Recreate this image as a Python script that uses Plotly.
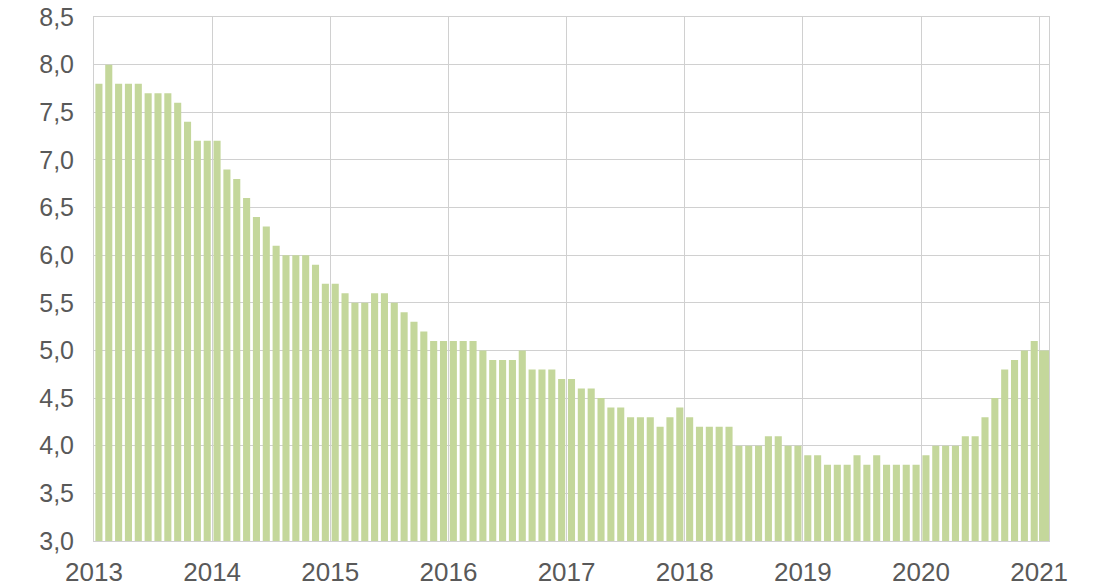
import plotly.graph_objects as go

years = ["2013", "2014", "2015", "2016", "2017", "2018", "2019", "2020", "2021"]

values_2013 = [7.8, 8.0, 7.8, 7.8, 7.8, 7.7, 7.7, 7.7, 7.6, 7.4, 7.2, 7.2]
values_2014 = [7.2, 6.9, 6.8, 6.6, 6.4, 6.3, 6.1, 6.0, 6.0, 6.0, 5.9, 5.7]
values_2015 = [5.7, 5.6, 5.5, 5.5, 5.6, 5.6, 5.5, 5.4, 5.3, 5.2, 5.1, 5.1]
values_2016 = [5.1, 5.1, 5.1, 5.0, 4.9, 4.9, 4.9, 5.0, 4.8, 4.8, 4.8, 4.7]
values_2017 = [4.7, 4.6, 4.6, 4.5, 4.4, 4.4, 4.3, 4.3, 4.3, 4.2, 4.3, 4.4]
values_2018 = [4.3, 4.2, 4.2, 4.2, 4.2, 4.0, 4.0, 4.0, 4.1, 4.1, 4.0, 4.0]
values_2019 = [3.9, 3.9, 3.8, 3.8, 3.8, 3.9, 3.8, 3.9, 3.8, 3.8, 3.8, 3.8]
values_2020 = [3.9, 4.0, 4.0, 4.0, 4.1, 4.1, 4.3, 4.5, 4.8, 4.9, 5.0, 5.1]
values_2021 = [5.0]

values = (values_2013 + values_2014 + values_2015 + values_2016 + values_2017
          + values_2018 + values_2019 + values_2020 + values_2021)
months = list(range(len(values)))

tick_positions = [12 * k - 0.5 for k in range(len(years))]

# last bar fills the slot up to the plot edge, as in the original
bar_widths = [0.72] * (len(values) - 1) + [1.0]

fig = go.Figure(go.Bar(
    x=months, y=values,
    marker=dict(color="#c4d79b", line=dict(width=0)),
    width=bar_widths,
    hoverinfo="skip",
))

font_color = "#595959"
grid_color = "#d0d0d0"

fig.update_layout(
    width=1102, height=588,
    margin=dict(l=94, r=53, t=17, b=47, autoexpand=False),
    paper_bgcolor="white", plot_bgcolor="white",
    separators=",.",
    showlegend=False,
    font=dict(family="Liberation Sans, Arial, sans-serif", size=24, color=font_color),
)
fig.update_xaxes(
    range=[-0.5, len(values) - 0.5],
    tickmode="array", tickvals=tick_positions, ticktext=years,
    tickfont=dict(size=26),
    showgrid=True, gridcolor=grid_color, gridwidth=1,
    showline=True, linecolor=grid_color, mirror=True,
    ticks="", ticklabelstandoff=8,
    zeroline=False, automargin=False,
)
fig.update_yaxes(
    range=[3.0, 8.5], dtick=0.5, tick0=3.0, tickformat=".1f",
    tickfont=dict(size=25),
    showgrid=True, gridcolor=grid_color, gridwidth=1,
    showline=True, linecolor=grid_color, mirror=True,
    ticks="", ticklabelstandoff=14,
    zeroline=False, automargin=False,
)

fig.write_html(
    "out.html",
    config={"displayModeBar": False},
    post_script="document.body.style.margin='0';document.body.style.overflow='hidden';",
)
